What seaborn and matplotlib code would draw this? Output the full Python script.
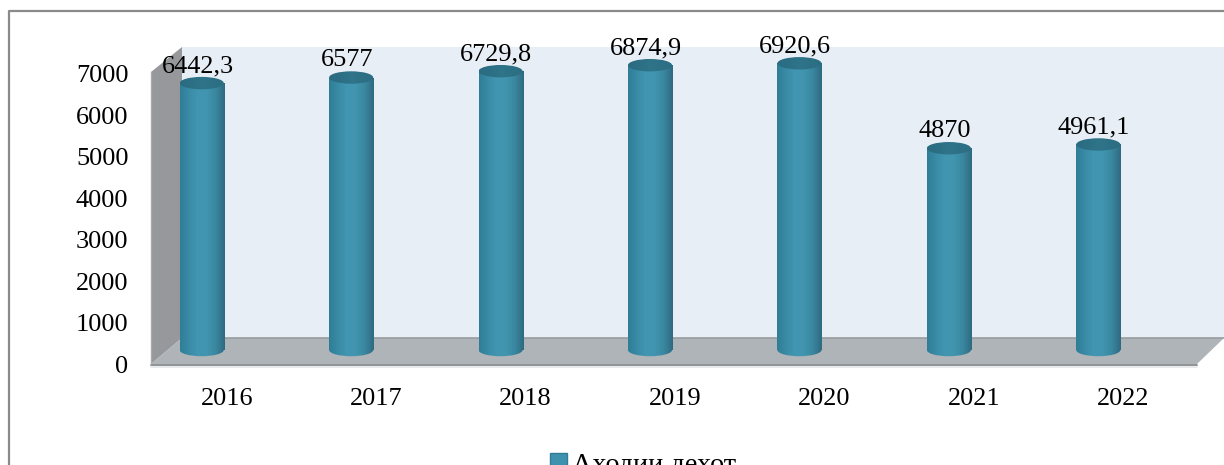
import numpy as np
import matplotlib
matplotlib.use("Agg")
import matplotlib.pyplot as plt
from matplotlib.colors import LinearSegmentedColormap
from matplotlib.patches import Ellipse, Patch, Polygon
import pandas as pd
import seaborn as sns

years = ["2016", "2017", "2018", "2019", "2020", "2021", "2022"]
income = [6442.3, 6577, 6729.8, 6874.9, 6920.6, 4870, 4961.1]
y_ticks = [0, 1000, 2000, 3000, 4000, 5000, 6000, 7000]
legend_label = "Аходии дехот"

W, H = 1224, 465
BAR_COLOR = "#3F92AD"
FONT = 18.9

sns.set_theme(style="white")
plt.rcParams["font.family"] = ["Liberation Serif", "DejaVu Serif"]
plt.rcParams["text.color"] = "black"
plt.rcParams["xtick.color"] = "black"
plt.rcParams["ytick.color"] = "black"

fig = plt.figure(figsize=(W / 100, H / 100), dpi=100, facecolor="white")


def px_axes(left, right, top, bottom):
    return fig.add_axes([left / W, 1 - bottom / H, (right - left) / W, (bottom - top) / H])


# backdrop in pixel coordinates: outer frame and the 3d walls
bg = px_axes(0, W, 0, H)
bg.set_xlim(0, W)
bg.set_ylim(H, 0)
bg.axis("off")
bg.plot([8.5, 8.5, W], [H, 11.5, 11.5], color="#8A8A8A", lw=1.6, clip_on=False)
bg.add_patch(Polygon([(182, 47), (W, 47), (W, 338), (182, 338)], fc="#E8EEF5", ec="none"))
bg.add_patch(Polygon([(151, 72), (182, 47), (182, 338), (151, 364)], fc="#97989B", ec="none"))
bg.add_patch(Polygon([(151, 364), (182, 338), (W, 338), (1197, 364)], fc="#AFB4B8", ec="none"))
bg.plot([182, W], [338, 338], color="#989DA1", lw=1.2)
bg.plot([151, 1197], [364.5, 364.5], color="#8F9396", lw=1.4)
bg.plot([151, 1197], [366.5, 366.5], color="#E4E6E8", lw=1.2)
bg.plot([151, 151], [72, 364], color="#A9AAAC", lw=1)

# front plane carries the tick labels
front = px_axes(152, 1198, 74, 364)
front.patch.set_alpha(0)
front.set_xlim(-0.5, 6.5)
front.set_ylim(0, 7000)
front.set_xticks(range(len(years)), years)
front.set_yticks(y_ticks)
front.tick_params(axis="x", length=0, pad=17.2, labelsize=FONT)
front.tick_params(axis="y", length=0, pad=17, labelsize=FONT)
sns.despine(ax=front, left=True, bottom=True)

# bars stand further back in the 3d box, so they get their own shifted axes
# (limits padded by 500 either side so the end caps are not cut off)
scale = 290 / 7000
ax = px_axes(127, 1173, 60 - 500 * scale, 350 + 500 * scale)
ax.patch.set_alpha(0)
df = pd.DataFrame({"year": years, "income": income})
sns.barplot(data=df, x="year", y="income", color=BAR_COLOR, width=0.295, saturation=1, ax=ax)
ax.axis("off")

body_cmap = LinearSegmentedColormap.from_list(
    "body", ["#2F7E98", "#3A8BA6", "#4296B1", "#4195AF", "#3A87A0", "#2F6B80"]
)
cap_cmap = LinearSegmentedColormap.from_list("cap", ["#2A6B80", "#2F7489", "#2C6D82"])
ramp = np.linspace(0, 1, 64).reshape(1, -1)
cap_h = 300

for bar, value in zip(list(ax.patches), income):
    x0, w = bar.get_x(), bar.get_width()
    cx = x0 + w / 2
    bar.set_facecolor("none")
    bar.set_edgecolor("none")

    base = Ellipse((cx, 0), w, cap_h, fc="none", ec="none")
    ax.add_patch(base)
    im = ax.imshow(ramp, cmap=body_cmap, extent=(x0, x0 + w, -cap_h, 0), aspect="auto", zorder=2)
    im.set_clip_path(base)

    im = ax.imshow(ramp, cmap=body_cmap, extent=(x0, x0 + w, 0, value), aspect="auto", zorder=2)
    im.set_clip_path(bar)

    top = Ellipse((cx, value), w, cap_h, fc="none", ec="none")
    ax.add_patch(top)
    im = ax.imshow(ramp, cmap=cap_cmap, extent=(x0, x0 + w, value - cap_h, value + cap_h), aspect="auto", zorder=3)
    im.set_clip_path(top)

    ax.annotate(f"{value:g}".replace(".", ","), (cx, value), xytext=(-3, 12.3), textcoords="offset points",
                ha="center", va="center", fontsize=FONT, zorder=5, annotation_clip=False)

ax.set_xlim(-0.5, 6.5)
ax.set_ylim(-500, 7500)

# legend runs off the bottom of the picture, as in the source
fig.legend(handles=[Patch(facecolor=BAR_COLOR, edgecolor="#2F7D96", label=legend_label)],
           loc="upper left", bbox_to_anchor=(525 / W, 1 - 427 / H), frameon=False,
           fontsize=20.3, handlelength=0.58, handleheight=0.58, handletextpad=0.2)

fig.savefig("out.png", dpi=100)
